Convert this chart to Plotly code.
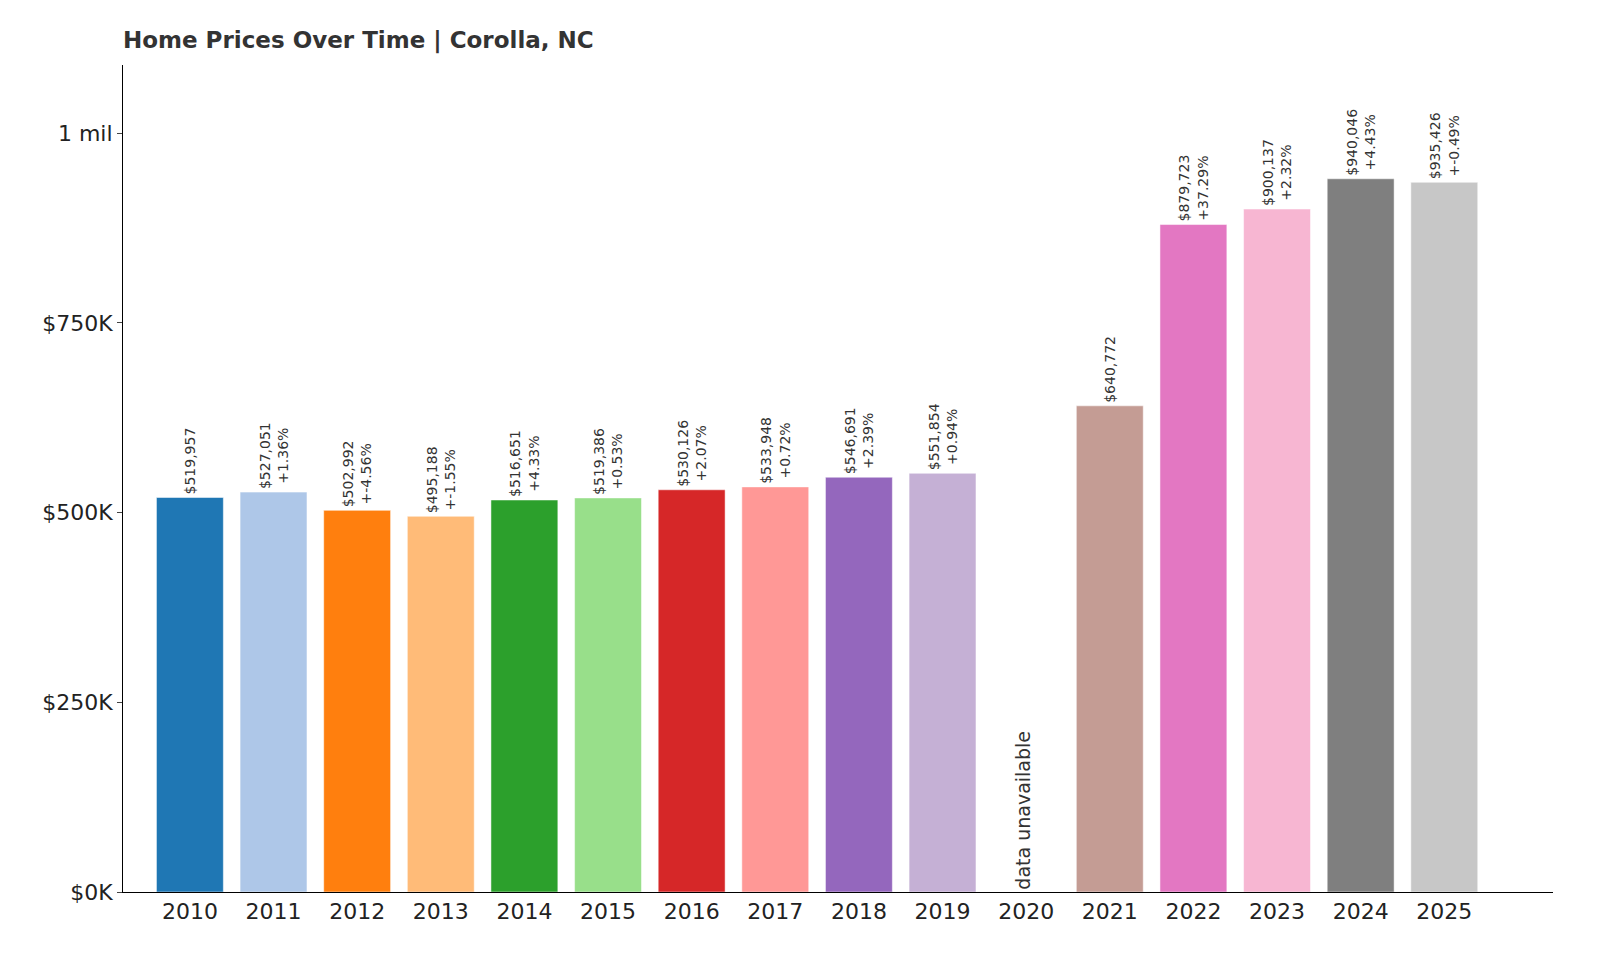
import plotly.graph_objects as go

years = ["2010", "2011", "2012", "2013", "2014", "2015", "2016", "2017",
         "2018", "2019", "2020", "2021", "2022", "2023", "2024", "2025"]
prices = [519957, 527051, 502992, 495188, 516651, 519386, 530126, 533948,
          546691, 551854, None, 640772, 879723, 900137, 940046, 935426]
changes = [None, "+1.36%", "+-4.56%", "+-1.55%", "+4.33%", "+0.53%", "+2.07%", "+0.72%",
           "+2.39%", "+0.94%", None, None, "+37.29%", "+2.32%", "+4.43%", "+-0.49%"]
colors = ["#1f77b4", "#aec7e8", "#ff7f0e", "#ffbb78", "#2ca02c", "#98df8a", "#d62728", "#ff9896",
          "#9467bd", "#c5b0d5", "#8c564b", "#c49c94", "#e377c2", "#f7b6d2", "#7f7f7f", "#c7c7c7"]

labels = []
for p, c in zip(prices, changes):
    if p is None:
        labels.append("")
    elif c is None:
        labels.append(f"${p:,}")
    else:
        labels.append(f"${p:,}<br>{c}")

fig = go.Figure(go.Bar(
    x=years, y=prices, marker_color=colors, width=0.8,
    text=labels, textposition="outside", textangle=-90,
    textfont=dict(size=19, color="#333333"), cliponaxis=False,
))

# category index of 2020
fig.add_annotation(x=years.index("2020"), y=0, text="data unavailable", textangle=-90,
                   showarrow=False, yanchor="bottom", xshift=-4,
                   font=dict(size=19, color="#333333"))

fig.update_layout(
    width=1600, height=960,
    template="simple_white",
    font=dict(family="DejaVu Sans", size=22, color="#222222"),
    title=dict(text="<b>Home Prices Over Time | Corolla, NC</b>", xref="paper", x=0, xanchor="left",
               y=0.975, font=dict(size=23, color="#333333")),
    margin=dict(l=115, r=55, t=57, b=76),
    showlegend=False,
    bargap=0.2,
)
fig.update_xaxes(type="category", ticks="", showline=True, linecolor="black",
                 range=[-0.8, 16.3])
fig.update_yaxes(range=[0, 1090000], tickvals=[0, 250000, 500000, 750000, 1000000],
                 ticktext=["$0K", "$250K", "$500K", "$750K", "1 mil"],
                 ticks="outside", showline=True, linecolor="black")

fig.write_html("out.html")
